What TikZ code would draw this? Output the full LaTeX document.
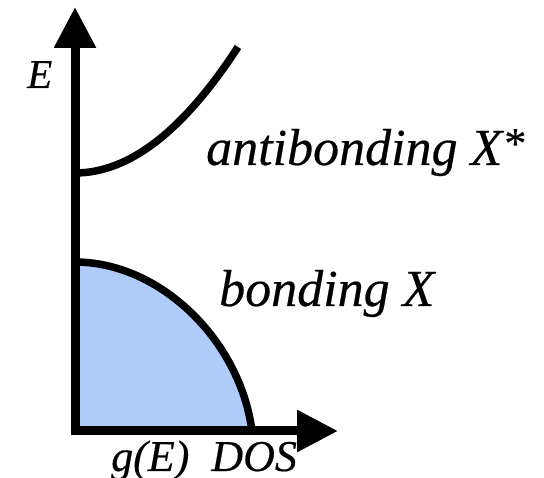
\documentclass[tikz,border=0pt]{standalone}
\usepackage{fontspec}
\setmainfont{Liberation Serif}
\newfontfamily\timesfont{Liberation Serif}[FakeBold=0.4]
\usetikzlibrary{arrows.meta}
\definecolor{bandblue}{RGB}{174,203,250}
\begin{document}
\begin{tikzpicture}[x=1pt,y=-1pt,
  axis/.style={line width=9pt, line join=miter,
    {Triangle[length=41pt,width=40pt]}-{Triangle[length=41pt,width=40pt]}},
  band/.style={line width=7.5pt},
  lbl/.style={inner sep=0pt, anchor=base west, font=\timesfont\itshape\fontsize{52}{60}\selectfont},
  smalllbl/.style={inner sep=0pt, anchor=base west, font=\timesfont\itshape\fontsize{44}{50}\selectfont}]
\useasboundingbox (0,0) rectangle (544,478);
\coordinate (top) at (75,7);
\coordinate (origin) at (75,431);
\coordinate (right) at (338,431);
\coordinate (btop) at (75,262);
\coordinate (bend) at (252,431);
\coordinate (atop) at (75,173);
\coordinate (aend) at (238,47);
% bonding band fill
\fill[bandblue] (btop) .. controls (160,262) and (240,340) .. (bend) -- (origin) -- cycle;
\draw[band] (btop) .. controls (160,262) and (240,340) .. (bend);
% antibonding band
\draw[band] (atop) .. controls (129.3,173) and (183.3,131) .. (aend);
% axes
\draw[axis] (top) -- (origin) -- (right);
% labels
\node[inner sep=0pt, anchor=base west, font=\timesfont\itshape\fontsize{41}{48}\selectfont] (E) at (27,88) {E};
\node[lbl] (anti) at (206,165) {antibonding X\raisebox{7pt}{\fontsize{44}{50}\selectfont*}};
\node[lbl] (bond) at (219,306) {bonding X};
\node[smalllbl] (gE) at (111,471) {g(E)\ \ DOS};
\end{tikzpicture}
\end{document}
